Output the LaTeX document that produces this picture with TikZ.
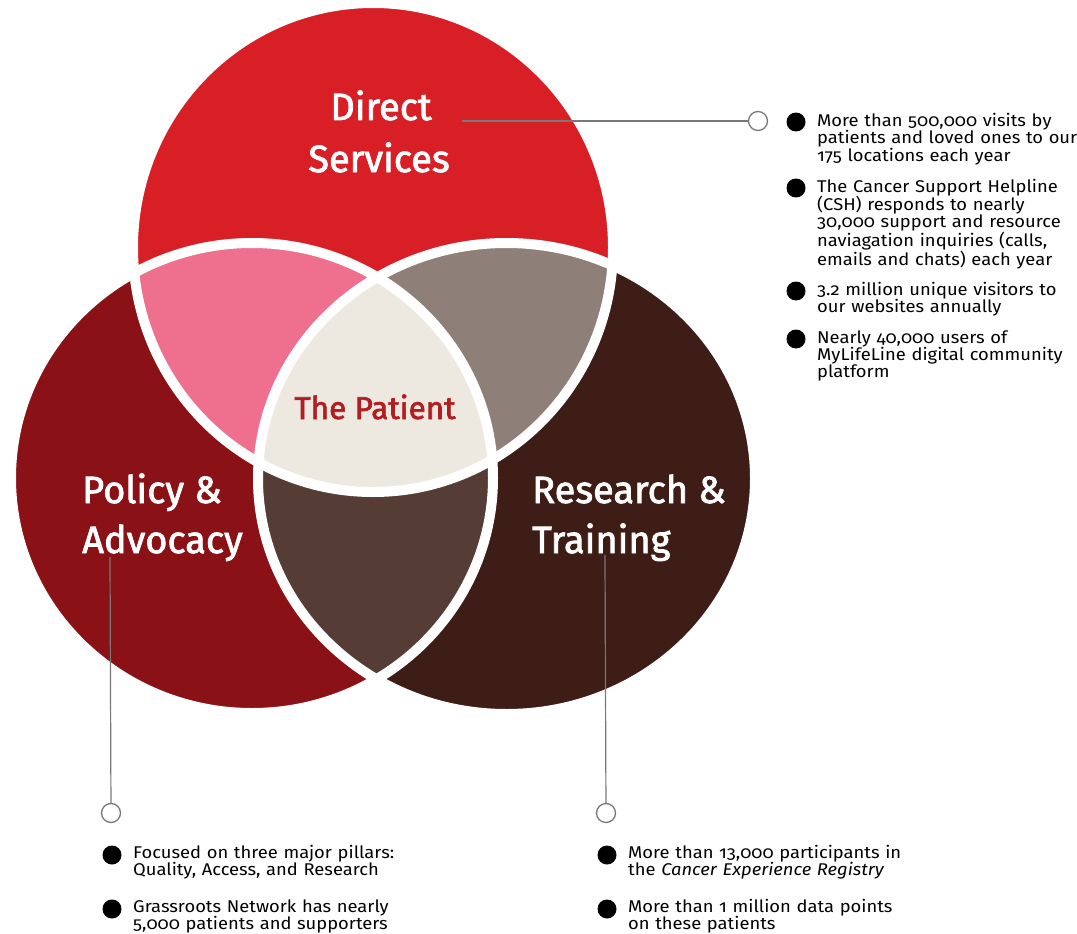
\documentclass[tikz,border=0pt]{standalone}
\usepackage{fontspec}
\setmainfont{Fira Sans}[Numbers=OldStyle,FakeStretch=1.08]
\newfontfamily\titlefont{Fira Sans}[FakeBold=2]
\definecolor{dsred}{RGB}{217,31,38}
\definecolor{padred}{RGB}{138,18,22}
\definecolor{rtbrown}{RGB}{63,29,23}
\definecolor{pinkc}{RGB}{239,111,143}
\definecolor{grayc}{RGB}{142,127,120}
\definecolor{lensc}{RGB}{85,61,53}
\definecolor{patc}{RGB}{237,232,224}
\definecolor{pattext}{RGB}{176,30,34}
\definecolor{linec}{RGB}{120,120,120}
\begin{document}
\begin{tikzpicture}[x=1pt,y=-1pt,
  title/.style={text=white,font=\titlefont\fontsize{38}{50}\selectfont,inner sep=0pt},
  item/.style={font=\fontsize{17}{16.6}\selectfont,text width=300pt,align=left,inner sep=0pt,anchor=base west},
  bul/.style={circle,fill=black,inner sep=0pt,minimum size=19pt},
  ring/.style={circle,draw=linec,line width=1.3pt,fill=white,inner sep=0pt,minimum size=19pt},
  conn/.style={draw=linec,line width=1.2pt},
  sep/.style={draw=white,line width=10pt}]
\useasboundingbox (0,0) rectangle (1077,934);
\fill[white] (0,0) rectangle (1077,934);
% circles
\def\topC{(373,247.5) ellipse [x radius=240pt,y radius=244.5pt]}
\def\leftC{(252,478) ellipse [x radius=241pt,y radius=235pt]}
\def\rightC{(506.5,478.5) ellipse [x radius=248.5pt,y radius=235.5pt]}
\fill[padred] \leftC;
\fill[rtbrown] \rightC;
\fill[dsred] \topC;
\begin{scope}\clip \topC; \fill[pinkc] \leftC; \fill[grayc] \rightC;\end{scope}
\begin{scope}\clip \leftC; \fill[lensc] \rightC;\end{scope}
\begin{scope}\clip \topC; \clip \leftC; \fill[patc] \rightC;\end{scope}
\draw[sep] \topC;
\draw[sep] \leftC;
\draw[sep] \rightC;
% titles
\node[title,anchor=base] (ds1) at (381,120) {Direct};
\node[title,anchor=base] (ds2) at (379,172) {Services};
\node[title,anchor=base west] (pa1) at (82,503) {Policy \&};
\node[title,anchor=base west] (pa2) at (82,553) {Advocacy};
\node[title,anchor=base west] (rt1) at (532,503) {Research \&};
\node[title,anchor=base west] (rt2) at (532,553) {Training};
\node[text=pattext,font=\titlefont\fontsize{31.5}{36}\selectfont,inner sep=0pt,anchor=base] (pat) at (375,419) {The Patient};
% connectors
\coordinate (dsend) at (462,121);
\coordinate (paend) at (110,557);
\coordinate (rtend) at (605,555);
\node[ring] (dsring) at (758,121) {};
\node[ring] (paring) at (111,813) {};
\node[ring] (rtring) at (606,813) {};
\draw[conn] (dsend) -- (dsring);
\draw[conn] (paend) -- (paring);
\draw[conn] (rtend) -- (rtring);
% right list
\node[bul] (b1) at (796,122) {};
\node[item] (t1) at (817,126) {More than 500,000 visits by\\patients and loved ones to our\\175 locations each year};
\node[bul] (b2) at (796,188) {};
\node[item] (t2) at (817,192) {The Cancer Support Helpline\\(CSH) responds to nearly\\30,000 support and resource\\naviagation inquiries (calls,\\emails and chats) each year};
\node[bul] (b3) at (796,291) {};
\node[item] (t3) at (817,295) {3.2 million unique visitors to\\our websites annually};
\node[bul] (b4) at (796,339) {};
\node[item] (t4) at (817,343) {Nearly 40,000 users of\\MyLifeLine digital community\\platform};
% bottom left list
\node[bul] (b5) at (112,855) {};
\node[item] (t5) at (133,858) {Focused on three major pillars:\\Quality, Access, and Research};
\node[bul] (b6) at (112,909) {};
\node[item] (t6) at (133,912) {Grassroots Network has nearly\\5,000 patients and supporters};
% bottom right list
\node[bul] (b7) at (607,855) {};
\node[item] (t7) at (628,858) {More than 13,000 participants in\\the \emph{Cancer Experience Registry}};
\node[bul] (b8) at (607,909) {};
\node[item] (t8) at (628,912) {More than 1 million data points\\on these patients};
\end{tikzpicture}
\end{document}
